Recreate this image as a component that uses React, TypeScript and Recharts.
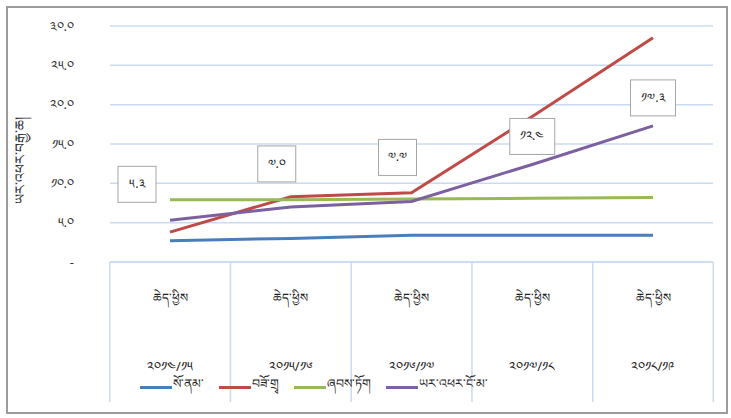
import { LineChart, Line, XAxis, YAxis, CartesianGrid, Legend, LabelList } from "recharts";

const categories = ["༢༠༡༤/༡༥", "༢༠༡༥/༡༦", "༢༠༡༦/༡༧", "༢༠༡༧/༡༨", "༢༠༡༨/༡༩"];
const periodLabels = ["ཆེད་ཕྱིས", "ཆེད་ཕྱིས", "ཆེད་ཕྱིས", "ཆེད་ཕྱིས", "ཆེད་ཕྱིས"];
const agriculture = [2.7, 3.0, 3.4, 3.4, 3.4];
const industry = [3.8, 8.3, 8.8, 18.5, 28.5];
const services = [7.9, 7.9, 8.0, 8.1, 8.2];
const realGrowth = [5.3, 7.0, 7.7, 12.4, 17.3];
const yTicks = [0, 5, 10, 15, 20, 25, 30];

const SERIES = [
  { key: "agri", name: "སོ་ནམ་", color: "#4a7ebb" },
  { key: "ind", name: "བཟོ་གྲྭ", color: "#be4b48" },
  { key: "serv", name: "ཞབས་ཏོག", color: "#98b954" },
  { key: "real", name: "ཡར་འཕར་ངོ་མ་", color: "#7d60a0" },
];

// manual nudges for the boxed labels, like the hand-placed ones in the original
const LABEL_NUDGE = [
  { dx: -33, dy: -36 },
  { dx: -14, dy: -43 },
  { dx: -14, dy: -44 },
  { dx: 0, dy: -28 },
  { dx: 0, dy: -28 },
];

const PLOT_W = 603;
const FONT = "'Noto Sans', 'DejaVu Sans', sans-serif";
const GRID = "#c8dbf0";

const data = categories.map((c, i) => ({
  cat: c,
  period: periodLabels[i],
  agri: agriculture[i],
  ind: industry[i],
  serv: services[i],
  real: realGrowth[i],
}));

const TIB = "༠༡༢༣༤༥༦༧༨༩";
const toTib = (s: string) => s.replace(/[0-9]/g, (d) => TIB[Number(d)]);
const fmt = (v: number) => (v === 0 ? "-" : toTib(v.toFixed(1)));

function CatTick(props: any) {
  const { x, y, index, payload } = props;
  const bw = PLOT_W / categories.length;
  const d = data[index];
  return (
    <g>
      <line x1={x - bw / 2} x2={x - bw / 2} y1={y} y2={y + 140} stroke={GRID} strokeWidth={1.5} />
      {index === categories.length - 1 && (
        <line x1={x + bw / 2} x2={x + bw / 2} y1={y} y2={y + 140} stroke={GRID} strokeWidth={1.5} />
      )}
      <text x={x} y={y + 40} textAnchor="middle" fontSize={12} fill="#222" fontFamily={FONT}>
        {d ? d.period : ""}
      </text>
      <text x={x} y={y + 109} textAnchor="middle" fontSize={13} fill="#222" fontFamily={FONT}>
        {payload.value}
      </text>
    </g>
  );
}

function BoxLabel(props: any) {
  const { x, y, value, index } = props;
  const n = LABEL_NUDGE[index] || { dx: 0, dy: -30 };
  const txt = toTib(Number(value).toFixed(1));
  const w = txt.length > 3 ? 45 : 38;
  const h = 36;
  const cx = x + n.dx;
  const cy = y + n.dy;
  return (
    <g>
      <rect x={cx - w / 2} y={cy - h / 2} width={w} height={h} fill="#fff" stroke="#a6a6a6" strokeWidth={1} />
      <text x={cx} y={cy + 4} textAnchor="middle" fontSize={12.5} fill="#222" fontFamily={FONT}>
        {txt}
      </text>
    </g>
  );
}

function LegendBox() {
  return (
    <div style={{ display: "flex", alignItems: "center", fontFamily: FONT, fontSize: 12.5, color: "#222" }}>
      {SERIES.map((s) => (
        <div key={s.key} style={{ display: "flex", alignItems: "center", marginRight: 15 }}>
          <span style={{ display: "inline-block", width: 32, height: 3, background: s.color }} />
          <span style={{ marginLeft: 1 }}>{s.name}</span>
        </div>
      ))}
    </div>
  );
}

export default function App() {
  return (
    <div
      style={{
        position: "absolute",
        left: 6,
        top: 6,
        width: 718,
        height: 404,
        border: "2px solid #9c9c9c",
        background: "#fff",
      }}
    >
      <LineChart width={718} height={404} data={data} margin={{ top: 18, right: 13, left: 0, bottom: 0 }}>
        <CartesianGrid vertical={false} stroke={GRID} strokeWidth={1.5} />
        <XAxis
          dataKey="cat"
          height={150}
          interval={0}
          padding={{ left: 60, right: 60 }}
          axisLine={{ stroke: GRID, strokeWidth: 1.5 }}
          tickLine={false}
          tickSize={0}
          tickMargin={0}
          tick={<CatTick />}
        />
        <YAxis
          width={102}
          domain={[0, 30]}
          ticks={yTicks}
          interval={0}
          axisLine={false}
          tickLine={false}
          tickSize={0}
          tickMargin={36}
          tickFormatter={fmt}
          tick={{ fontSize: 13, fill: "#333", fontFamily: FONT }}
          label={{
            content: () => (
              <text
                x={17}
                y={152}
                transform="rotate(-90 17 152)"
                textAnchor="middle"
                fontSize={14}
                fill="#333"
                fontFamily={FONT}
              >
                ཡར་འཕར་བརྒྱ་ཆ།
              </text>
            ),
          }}
        />
        <Legend
          layout="horizontal"
          verticalAlign="middle"
          content={() => <LegendBox />}
          wrapperStyle={{ top: 362, left: 132, width: "auto", height: 18 }}
        />
        {SERIES.map((s) => (
          <Line
            key={s.key}
            type="linear"
            dataKey={s.key}
            name={s.name}
            stroke={s.color}
            strokeWidth={3}
            dot={false}
            activeDot={false}
            isAnimationActive={false}
          >
            {s.key === "real" && <LabelList dataKey="real" content={<BoxLabel />} />}
          </Line>
        ))}
      </LineChart>
    </div>
  );
}
